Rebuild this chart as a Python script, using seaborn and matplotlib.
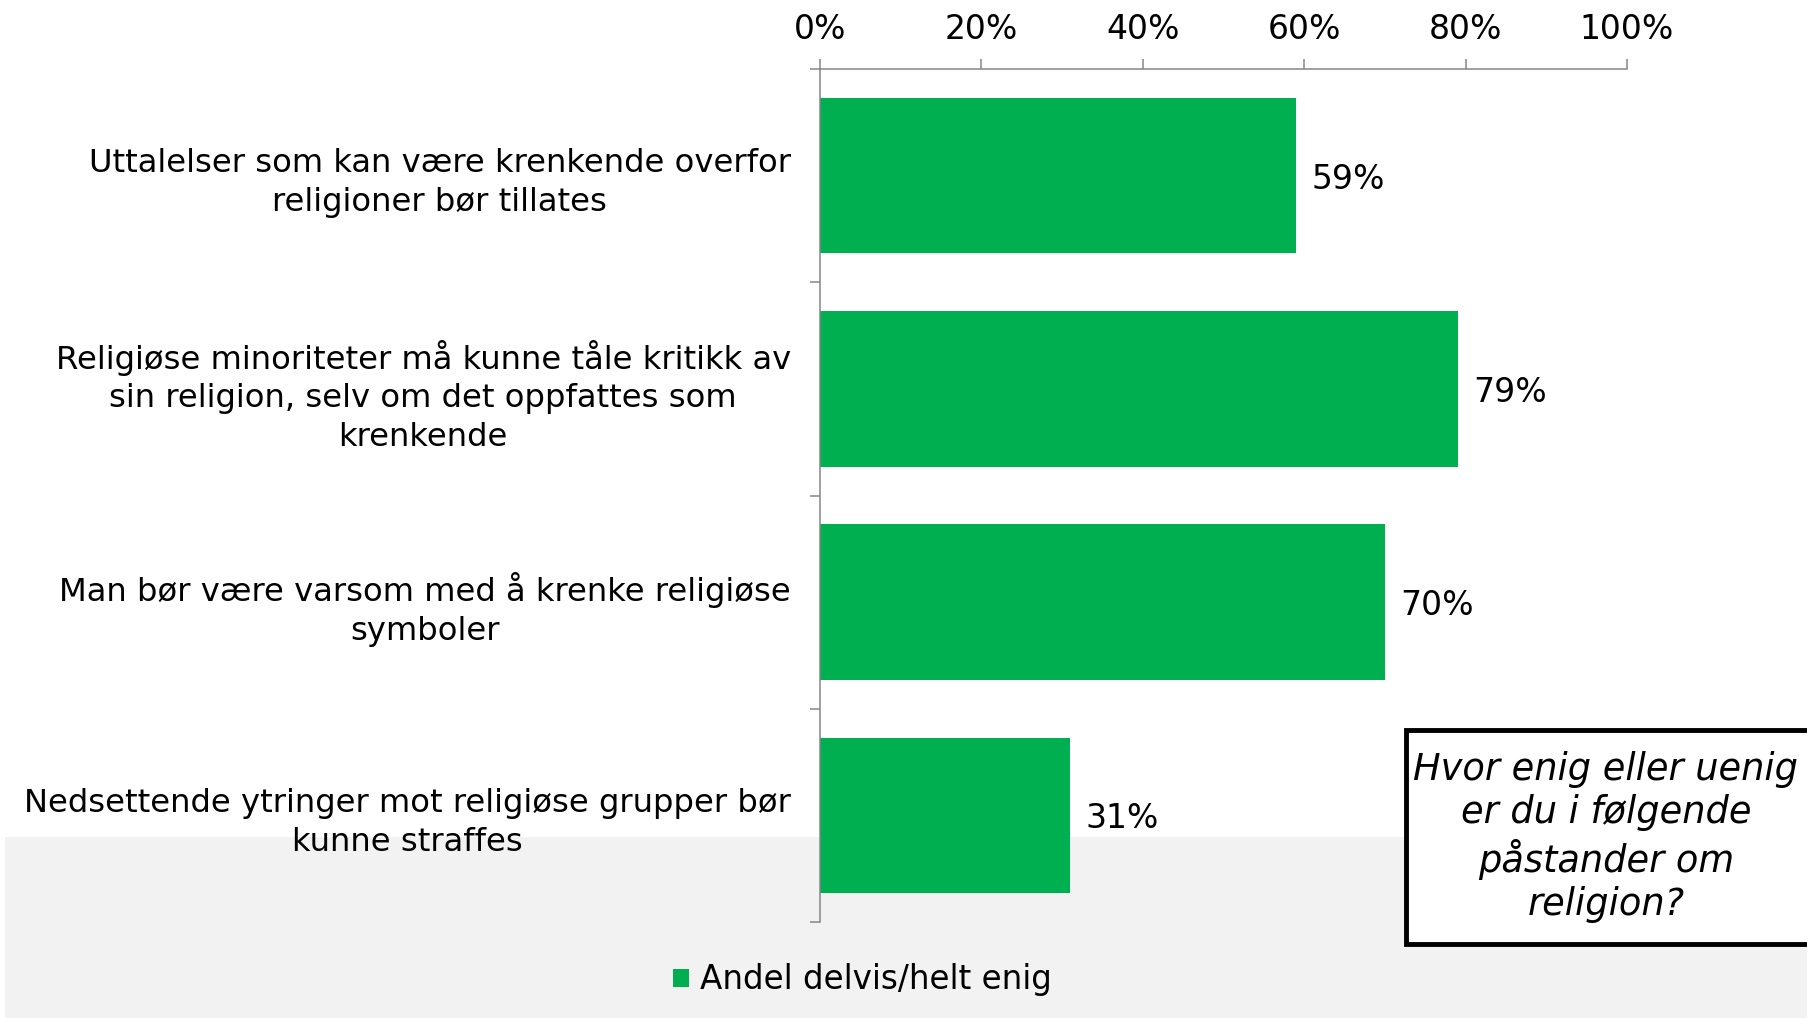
import matplotlib
matplotlib.use("Agg")
import matplotlib.pyplot as plt
import seaborn as sns
import pandas as pd
from matplotlib.patches import Rectangle
from matplotlib.ticker import FixedLocator, FuncFormatter

statements = [
    "Uttalelser som kan være krenkende overfor\nreligioner bør tillates",
    "Religiøse minoriteter må kunne tåle kritikk av\nsin religion, selv om det oppfattes som\nkrenkende",
    "Man bør være varsom med å krenke religiøse\nsymboler",
    "Nedsettende ytringer mot religiøse grupper bør\nkunne straffes",
]
values = [59, 79, 70, 31]
series_name = "Andel delvis/helt enig"
x_ticks = [0, 20, 40, 60, 80, 100]
question = "Hvor enig eller uenig\ner du i følgende\npåstander om\nreligion?"

GREEN = "#00B050"
GRAY = "#868686"

sns.set_theme(style="white")
plt.rcParams["font.family"] = ["DejaVu Sans"]
plt.rcParams["text.color"] = "black"
plt.rcParams["xtick.color"] = "black"
plt.rcParams["ytick.color"] = "black"

df = pd.DataFrame({"statement": statements, "value": values, "series": series_name})

fig = plt.figure(figsize=(18.08, 10.18), dpi=100)
fig.patch.set_facecolor("white")

# gray band behind lower part
fig.patches.append(Rectangle((5 / 1808, 0), 1, 1 - 837 / 1018, transform=fig.transFigure,
                             facecolor="#F2F2F2", edgecolor="none", zorder=-5))

ax = fig.add_axes([820 / 1808, 1 - 922 / 1018, (1627 - 820) / 1808, (922 - 69) / 1018])
ax.patch.set_alpha(0)

sns.barplot(data=df, x="value", y="statement", hue="series", palette=[GREEN],
            width=0.73, ax=ax, saturation=1, edgecolor="none")

ax.set_xlim(0, 100)
ax.set_ylim(3.5, -0.5)
ax.set_xlabel("")
ax.set_ylabel("")

ax.xaxis.set_ticks_position("top")
ax.xaxis.set_label_position("top")
ax.set_xticks(x_ticks)
ax.xaxis.set_major_formatter(FuncFormatter(lambda v, p: f"{v:.0f}%"))
ax.tick_params(axis="x", which="major", direction="out", length=7, width=1.1,
               color=GRAY, labelsize=23.8, pad=9.5, labelcolor="black")

ax.yaxis.set_minor_locator(FixedLocator([-0.5, 0.5, 1.5, 2.5, 3.5]))
ax.tick_params(axis="y", which="major", length=0, pad=21, labelsize=23.2, labelcolor="black")
ax.tick_params(axis="y", which="minor", direction="out", length=7, width=1.1, color=GRAY, left=True)
for lab in ax.get_yticklabels():
    lab.set_multialignment("center")
    lab.set_linespacing(1.32)

for side in ["right", "bottom"]:
    ax.spines[side].set_visible(False)
for side in ["top", "left"]:
    ax.spines[side].set_color(GRAY)
    ax.spines[side].set_linewidth(1.1)

for cont in ax.containers:
    texts = ax.bar_label(cont, fmt="%.0f%%", padding=11, fontsize=23.8, color="black")
    for t in texts:
        t.set_va("center_baseline")

sns.move_legend(ax, loc="center", bbox_to_anchor=(0.477, 1 - 980 / 1018),
                bbox_transform=fig.transFigure, frameon=False, title=None,
                fontsize=23.5, handlelength=0.5, handleheight=0.5, handletextpad=0.35)

# question box
fig.patches.append(Rectangle((1406 / 1808, 1 - 944 / 1018), 0.3, (944 - 730) / 1018,
                             transform=fig.transFigure, facecolor="white",
                             edgecolor="black", linewidth=3.5, zorder=3))
fig.text(1606 / 1808, 1 - 837 / 1018, question, ha="center", va="center",
         fontsize=26.5, style="italic", linespacing=1.22, zorder=4, color="black")

fig.savefig("out.png", dpi=100)
